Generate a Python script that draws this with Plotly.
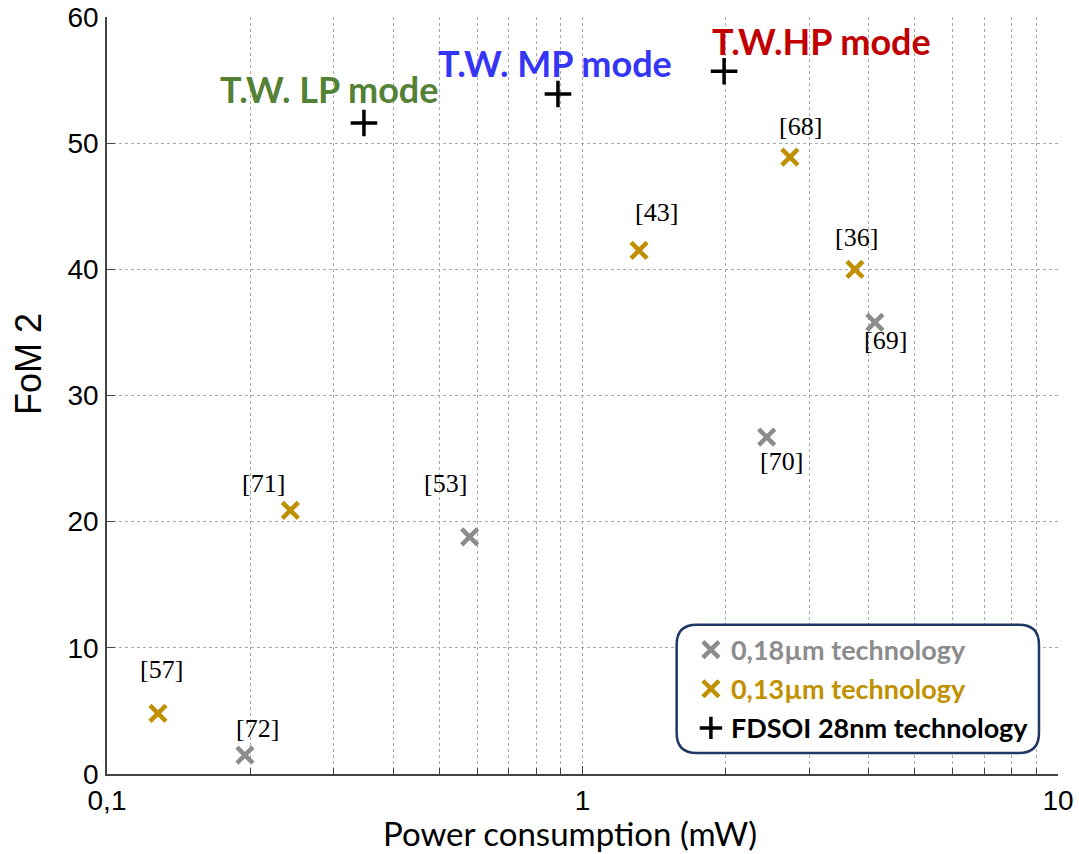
import math
import plotly.graph_objects as go

# --- data: power consumption (mW) vs FoM 2 ---
ref_018 = ["[72]", "[53]", "[70]", "[69]"]
power_018 = [0.195, 0.579, 2.44, 4.12]
fom_018 = [1.5, 18.8, 26.7, 35.8]

ref_013 = ["[57]", "[71]", "[43]", "[68]", "[36]"]
power_013 = [0.128, 0.243, 1.315, 2.73, 3.74]
fom_013 = [4.8, 20.9, 41.5, 48.9, 40.0]

modes_28 = ["T.W. LP mode", "T.W. MP mode", "T.W.HP mode"]
power_28 = [0.347, 0.888, 1.985]
fom_28 = [51.6, 53.9, 55.7]

# label offsets in pixels (dx, dy, dy positive = up)
ref_018_off = [(13, 27), (-24, 53), (15, -24), (11, -18)]
ref_013_off = [(4, 44), (-27, 27), (17, 38), (11, 31), (2, 32)]
mode_off = [(-35, 34), (-3, 31), (97, 30)]
mode_colors = ["#538135", "#3535F5", "#C00000"]

x_tickvals = [0.1, 1, 10]
x_ticktext = ["0,1", "1", "10"]
x_minor = [0.2, 0.3, 0.4, 0.5, 0.6, 0.7, 0.8, 0.9, 2, 3, 4, 5, 6, 7, 8, 9]

GRAY = "#8C8C8C"
GOLD = "#BF9000"
NAVY = "#1F3864"
GRID = "#A8A8A8"

fig = go.Figure()

fig.add_trace(go.Scatter(
    x=power_018, y=fom_018, mode="markers",
    name='<b><span style="color:%s">0,18µm technology</span></b>' % GRAY,
    legendgroup="a",
    marker=dict(symbol="x-thin", size=16, line=dict(color=GRAY, width=4.5)),
))
fig.add_trace(go.Scatter(
    x=power_013, y=fom_013, mode="markers",
    name='<b><span style="color:%s">0,13µm technology</span></b>' % GOLD,
    legendgroup="b",
    marker=dict(symbol="x-thin", size=16, line=dict(color=GOLD, width=4.5)),
))
fig.add_trace(go.Scatter(
    x=power_28, y=fom_28, mode="markers",
    name="<b>FDSOI 28nm technology</b>",
    legendgroup="c",
    marker=dict(symbol="cross-thin", size=19, line=dict(color="black", width=3.5)),
))

annotations = []
for refs, xs, ys, offs in [(ref_018, power_018, fom_018, ref_018_off),
                           (ref_013, power_013, fom_013, ref_013_off)]:
    for r, xv, yv, (dx, dy) in zip(refs, xs, ys, offs):
        annotations.append(dict(
            x=math.log10(xv), y=yv, xref="x", yref="y",
            text=r, showarrow=False, xshift=dx, yshift=dy,
            font=dict(family="Liberation Serif", size=26, color="black"),
        ))

for t, xv, yv, (dx, dy), c in zip(modes_28, power_28, fom_28, mode_off, mode_colors):
    annotations.append(dict(
        x=math.log10(xv), y=yv, xref="x", yref="y",
        text="<b>%s</b>" % t, showarrow=False, xshift=dx, yshift=dy,
        font=dict(family="Lato", size=36, color=c),
    ))

# axis titles
annotations.append(dict(
    x=0.487, y=-0.0775, xref="paper", yref="paper",
    text="Power consumption (mW)", showarrow=False,
    xanchor="center", yanchor="middle",
    font=dict(family="Lato", size=33, color="black"),
))
annotations.append(dict(
    x=-0.083, y=0.5416, xref="paper", yref="paper",
    text="FoM 2", showarrow=False, textangle=-90,
    xanchor="center", yanchor="middle",
    font=dict(family="Liberation Sans", size=36, color="black"),
))

# rounded legend frame (paper coordinates)
x0, x1, y0, y1 = 0.599, 0.980, 0.0277, 0.197
rx, ry = 0.021, 0.0264
frame = (
    f"M {x0+rx},{y0} L {x1-rx},{y0} Q {x1},{y0} {x1},{y0+ry} "
    f"L {x1},{y1-ry} Q {x1},{y1} {x1-rx},{y1} "
    f"L {x0+rx},{y1} Q {x0},{y1} {x0},{y1-ry} "
    f"L {x0},{y0+ry} Q {x0},{y0} {x0+rx},{y0} Z"
)

fig.update_layout(
    width=1079, height=854,
    margin=dict(l=107, r=21, t=17, b=80),
    paper_bgcolor="white", plot_bgcolor="white",
    showlegend=True,
    legend=dict(
        x=0.614, y=0.196, xanchor="left", yanchor="top",
        bgcolor="rgba(0,0,0,0)", borderwidth=0,
        font=dict(family="Lato", size=27, color="black"),
        traceorder="grouped", tracegroupgap=1,
    ),
    annotations=annotations,
    shapes=[dict(type="path", path=frame, xref="paper", yref="paper",
                 line=dict(color=NAVY, width=2.5), fillcolor="white", layer="above")],
    xaxis=dict(
        type="log", range=[-1, 1], automargin=False,
        tickvals=x_tickvals, ticktext=x_ticktext,
        ticks="inside", ticklen=8, tickcolor="#444",
        showline=True, linecolor="#444", linewidth=1.5, mirror=False,
        showgrid=True, gridcolor=GRID, griddash="dot", gridwidth=1,
        zeroline=False,
        tickfont=dict(family="Liberation Sans", size=28, color="black"),
        ticklabelstandoff=1,
        minor=dict(tickvals=x_minor, ticks="inside", ticklen=6, tickcolor="#444",
                   showgrid=True, gridcolor=GRID, griddash="dot", gridwidth=1),
    ),
    yaxis=dict(
        range=[0, 60], dtick=10, tick0=0, automargin=False,
        ticks="inside", ticklen=8, tickcolor="#444",
        showline=True, linecolor="#444", linewidth=1.5, mirror=False,
        showgrid=True, gridcolor=GRID, griddash="dot", gridwidth=1,
        zeroline=False,
        tickfont=dict(family="Liberation Sans", size=28, color="black"),
        ticklabelstandoff=1,
    ),
)

fig.write_html("out.html")
